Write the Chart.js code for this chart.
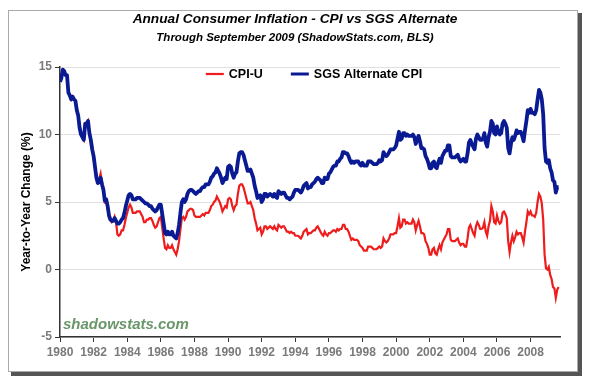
<!DOCTYPE html>
<html>
<head>
<meta charset="utf-8">
<script src="https://cdn.jsdelivr.net/npm/chart.js@4/dist/chart.umd.min.js"></script>
<style>
  html, body { margin: 0; padding: 0; background: #fff; }
  canvas { display: block; }
</style>
</head>
<body>
<canvas id="chart" width="590" height="385"></canvas>
<script>
// monthly year-on-year change, Jan 1980 .. Sep 2009
const startYear = 1980;

const cpiU = [
  13.9, 14.2, 14.8, 14.7, 14.4, 14.4, 13.1, 12.9, 12.6, 12.8, 12.6, 12.5,
  11.8, 11.4, 10.5, 10.0, 9.8, 9.6, 10.8, 10.8, 11.0, 10.1, 9.6, 8.9,
  8.4, 7.6, 6.8, 6.5, 6.7, 7.1, 6.4, 5.9, 5.0, 5.1, 4.6, 3.8,
  3.7, 3.5, 3.6, 3.9, 3.5, 2.6, 2.5, 2.6, 2.9, 2.9, 3.3, 3.8,
  4.2, 4.6, 4.8, 4.6, 4.2, 4.2, 4.2, 4.3, 4.3, 4.3, 4.1, 3.9,
  3.5, 3.5, 3.7, 3.7, 3.8, 3.8, 3.6, 3.3, 3.1, 3.2, 3.5, 3.8,
  3.9, 3.1, 2.3, 1.6, 1.5, 1.8, 1.6, 1.6, 1.8, 1.5, 1.3, 1.1,
  1.5, 2.1, 3.0, 3.8, 3.9, 3.7, 3.9, 4.3, 4.4, 4.5, 4.5, 4.4,
  4.0, 3.9, 3.9, 3.9, 3.9, 4.0, 4.1, 4.0, 4.2, 4.2, 4.2, 4.4,
  4.7, 4.8, 5.0, 5.1, 5.4, 5.2, 5.0, 4.7, 4.3, 4.5, 4.7, 4.6,
  5.2, 5.3, 5.2, 4.7, 4.4, 4.7, 4.8, 5.6, 6.2, 6.3, 6.3, 6.1,
  5.7, 5.3, 4.9, 4.9, 5.0, 4.7, 4.4, 3.8, 3.4, 2.9, 3.0, 3.1,
  2.6, 2.8, 3.2, 3.2, 3.0, 3.1, 3.2, 3.1, 3.0, 3.2, 3.0, 2.9,
  3.3, 3.2, 3.1, 3.2, 3.2, 3.0, 2.8, 2.8, 2.7, 2.8, 2.7, 2.7,
  2.5, 2.5, 2.5, 2.4, 2.3, 2.5, 2.8, 2.9, 3.0, 2.6, 2.7, 2.7,
  2.8, 2.9, 2.9, 3.1, 3.2, 3.0, 2.8, 2.6, 2.5, 2.8, 2.6, 2.5,
  2.7, 2.7, 2.8, 2.9, 2.9, 2.8, 3.0, 2.9, 3.0, 3.0, 3.3, 3.3,
  3.0, 3.0, 2.8, 2.5, 2.2, 2.3, 2.2, 2.2, 2.2, 2.1, 1.8, 1.7,
  1.6, 1.4, 1.4, 1.4, 1.7, 1.7, 1.7, 1.6, 1.5, 1.5, 1.5, 1.6,
  1.7, 1.6, 1.7, 2.3, 2.1, 2.0, 2.1, 2.3, 2.6, 2.6, 2.6, 2.7,
  2.7, 3.2, 3.8, 3.1, 3.2, 3.7, 3.7, 3.4, 3.5, 3.4, 3.4, 3.4,
  3.7, 3.5, 2.9, 3.3, 3.6, 3.2, 2.7, 2.7, 2.6, 2.1, 1.9, 1.6,
  1.1, 1.1, 1.5, 1.6, 1.2, 1.1, 1.5, 1.8, 1.5, 2.0, 2.2, 2.4,
  2.6, 3.0, 3.0, 2.2, 2.1, 2.1, 2.1, 2.2, 2.3, 2.0, 1.8, 1.9,
  1.9, 1.7, 1.7, 2.3, 3.1, 3.3, 3.0, 2.7, 2.5, 3.2, 3.5, 3.3,
  3.0, 3.0, 3.1, 3.5, 2.8, 2.5, 3.2, 3.6, 4.7, 4.3, 3.5, 3.4,
  4.0, 3.6, 3.4, 3.5, 4.2, 4.3, 4.1, 3.8, 2.1, 1.3, 2.0, 2.5,
  2.1, 2.4, 2.8, 2.6, 2.7, 2.7, 2.4, 2.0, 2.8, 3.5, 4.3, 4.1,
  4.3, 4.0, 4.0, 3.9, 4.2, 5.0, 5.6, 5.4, 4.9, 3.7, 1.1, 0.1,
  0.0, 0.2, -0.4, -0.7, -1.3, -1.4, -2.1, -1.5, -1.3
];

const sgsAlt = [
  13.9, 14.2, 14.8, 14.7, 14.4, 14.4, 13.1, 12.9, 12.6, 12.8, 12.6, 12.5,
  11.8, 11.4, 10.5, 10.0, 9.8, 9.6, 10.8, 10.8, 11.0, 10.1, 9.6, 8.9,
  8.4, 7.6, 6.8, 6.4, 6.5, 6.8, 6.3, 5.9, 5.1, 5.2, 4.7, 4.0,
  3.7, 3.6, 3.6, 3.8, 3.6, 3.4, 3.4, 3.5, 3.7, 3.8, 4.2, 4.7,
  5.1, 5.5, 5.6, 5.5, 5.2, 5.2, 5.2, 5.3, 5.3, 5.3, 5.2, 5.1,
  5.0, 4.9, 4.9, 4.8, 4.7, 4.7, 4.5, 4.4, 4.3, 4.4, 4.6, 4.8,
  4.8, 4.1, 3.4, 2.7, 2.6, 2.8, 2.6, 2.6, 2.8, 2.5, 2.4, 2.3,
  2.7, 3.3, 4.2, 5.0, 5.2, 5.0, 5.2, 5.6, 5.8, 5.9, 5.9, 5.8,
  5.7, 5.6, 5.7, 5.8, 5.8, 6.0, 6.1, 6.1, 6.3, 6.3, 6.3, 6.5,
  6.8, 6.9, 7.1, 7.2, 7.5, 7.3, 7.1, 6.8, 6.4, 6.6, 6.8, 6.7,
  7.6, 7.7, 7.6, 7.1, 6.8, 7.1, 7.2, 8.0, 8.6, 8.7, 8.7, 8.5,
  8.1, 7.7, 7.3, 7.3, 7.4, 7.1, 6.8, 6.2, 5.8, 5.3, 5.4, 5.5,
  5.0, 5.2, 5.6, 5.6, 5.4, 5.5, 5.6, 5.5, 5.4, 5.6, 5.4, 5.3,
  5.8, 5.7, 5.6, 5.7, 5.7, 5.5, 5.3, 5.3, 5.2, 5.3, 5.4, 5.7,
  5.9, 5.9, 5.9, 5.8, 5.7, 5.9, 6.2, 6.3, 6.4, 6.0, 6.1, 6.1,
  6.3, 6.4, 6.5, 6.7, 6.8, 6.7, 6.6, 6.4, 6.4, 6.8, 6.7, 6.7,
  7.1, 7.2, 7.4, 7.6, 7.7, 7.7, 8.0, 8.0, 8.2, 8.3, 8.7, 8.7,
  8.6, 8.6, 8.4, 8.1, 7.9, 8.0, 7.9, 8.0, 8.0, 8.0, 7.8, 7.7,
  7.9, 7.7, 7.7, 7.7, 8.0, 8.0, 8.0, 7.9, 7.8, 7.8, 7.8, 7.9,
  8.1, 8.0, 8.1, 8.7, 8.5, 8.4, 8.5, 8.7, 8.9, 8.9, 8.9, 9.0,
  9.2, 9.7, 10.2, 9.6, 9.7, 10.1, 10.1, 9.9, 10.0, 9.9, 9.9, 9.9,
  10.0, 9.8, 9.3, 9.6, 9.9, 9.5, 9.0, 9.0, 8.9, 8.4, 8.2, 7.9,
  7.5, 7.5, 7.9, 8.0, 7.6, 7.5, 7.9, 8.2, 7.9, 8.4, 8.6, 8.8,
  8.8, 9.2, 9.2, 8.4, 8.3, 8.3, 8.3, 8.4, 8.5, 8.2, 8.0, 8.1,
  8.2, 8.0, 8.0, 8.6, 9.4, 9.6, 9.3, 9.1, 8.9, 9.7, 10.0, 9.8,
  9.6, 9.6, 9.7, 10.1, 9.4, 9.1, 9.8, 10.2, 11.0, 10.8, 10.1, 10.0,
  10.6, 10.2, 10.0, 10.1, 10.8, 11.0, 10.8, 10.5, 9.0, 8.6, 9.3, 9.8,
  9.6, 9.9, 10.3, 10.1, 10.2, 10.2, 9.9, 9.5, 10.3, 11.0, 11.8, 11.6,
  11.9, 11.6, 11.6, 11.5, 11.8, 12.6, 13.3, 13.1, 12.6, 11.5, 9.0, 8.0,
  7.9, 8.1, 7.5, 7.2, 6.6, 6.5, 5.7, 6.1, 6.1
];

const yearTicks = [1980, 1982, 1984, 1986, 1988, 1990, 1992, 1994, 1996, 1998, 2000, 2002, 2004, 2006, 2008];
const valueTicks = [-5, 0, 5, 10, 15];

const chartTitle = 'Annual Consumer Inflation - CPI vs SGS Alternate';
const chartSubtitle = 'Through September 2009 (ShadowStats.com, BLS)';

const FONT = '"Liberation Sans", Arial, Helvetica, sans-serif';
Chart.defaults.font.family = FONT;

const toPoints = (arr) => arr.map((v, i) => ({ x: startYear + i / 12, y: v }));

const framePlugin = {
  id: 'frame',
  beforeDraw(chart) {
    const { ctx, width, height } = chart;
    ctx.save();
    ctx.fillStyle = '#fff';
    ctx.fillRect(0, 0, width, height);
    // drop shadow
    ctx.fillStyle = '#555';
    ctx.fillRect(11, 13, 571, 363);
    ctx.fillStyle = '#fff';
    ctx.fillRect(8, 10, 570, 362);
    ctx.strokeStyle = '#aaa';
    ctx.lineWidth = 1;
    ctx.strokeRect(8.5, 10.5, 569, 361);

    // headings, centred on the framed box
    const cx = 295;
    ctx.fillStyle = '#000';
    ctx.textAlign = 'center';
    ctx.textBaseline = 'middle';
    ctx.font = `italic bold 13.7px ${FONT}`;
    ctx.fillText(chartTitle, cx, 19);
    ctx.font = `italic bold 11.5px ${FONT}`;
    ctx.fillText(chartSubtitle, cx, 38);
    ctx.restore();
  },
};

const watermarkPlugin = {
  id: 'watermark',
  beforeDatasetsDraw(chart) {
    const { ctx, chartArea } = chart;
    ctx.save();
    ctx.font = `italic bold 15px ${FONT}`;
    ctx.fillStyle = '#6a976a';
    ctx.textBaseline = 'middle';
    ctx.fillText('shadowstats.com', chartArea.left + 3, chartArea.bottom - 12);
    ctx.restore();
  },
};

// legend sits inside the plot, under the top gridline
const insideLegend = {
  id: 'insideLegend',
  afterDatasetsDraw(chart) {
    const { ctx, chartArea } = chart;
    const sets = chart.data.datasets;
    const lineLen = 18, gap = 5, spacing = 28;
    ctx.save();
    ctx.font = `bold 12.5px ${FONT}`;
    const widths = sets.map(d => lineLen + gap + ctx.measureText(d.label).width);
    const total = widths.reduce((a, b) => a + b, 0) + spacing * (sets.length - 1);
    let x = (chartArea.left + chartArea.right) / 2 + 4 - total / 2;
    const y = chartArea.top + 7;
    sets.forEach((d, i) => {
      ctx.strokeStyle = d.borderColor;
      ctx.lineWidth = Math.min(d.borderWidth, 3);
      ctx.beginPath();
      ctx.moveTo(x, y);
      ctx.lineTo(x + lineLen, y);
      ctx.stroke();
      ctx.fillStyle = '#000';
      ctx.textBaseline = 'middle';
      ctx.fillText(d.label, x + lineLen + gap, y + 0.5);
      x += widths[i] + spacing;
    });
    ctx.restore();
  },
};

const tickFont = { size: 12, weight: 'bold' };

new Chart(document.getElementById('chart'), {
  type: 'line',
  data: {
    datasets: [
      {
        label: 'CPI-U',
        data: toPoints(cpiU),
        borderColor: '#ee1c1c',
        borderWidth: 2.2,
        pointRadius: 0,
        tension: 0,
        order: 1,
      },
      {
        label: 'SGS Alternate CPI',
        data: toPoints(sgsAlt),
        borderColor: '#0a1a92',
        borderWidth: 3.8,
        pointRadius: 0,
        tension: 0,
        borderJoinStyle: 'round',
        order: 0,
      },
    ],
  },
  options: {
    responsive: false,
    animation: false,
    layout: { padding: { left: 10, right: 30, top: 67, bottom: 18 } },
    plugins: {
      legend: { display: false },
      tooltip: { enabled: false },
    },
    scales: {
      x: {
        type: 'linear',
        min: 1980,
        max: 2009.75,
        afterBuildTicks: (s) => { s.ticks = yearTicks.map(v => ({ value: v })); },
        afterFit: (s) => { s.height = 30; },
        grid: { drawOnChartArea: false, tickLength: 5, tickColor: '#333' },
        border: { color: '#333', width: 1.5 },
        ticks: {
          color: '#7a7a7a',
          font: tickFont,
          padding: 3,
          maxRotation: 0,
          autoSkip: false,
          callback: (v) => String(v),
        },
      },
      y: {
        min: -5,
        max: 15,
        afterBuildTicks: (s) => { s.ticks = valueTicks.map(v => ({ value: v })); },
        afterFit: (s) => { s.width = 50; },
        grid: { color: '#e0e0e0', tickColor: '#333', tickLength: 5 },
        border: { color: '#333', width: 1.5 },
        ticks: {
          color: '#7a7a7a',
          font: tickFont,
          padding: 3,
          callback: (v) => String(v),
        },
        title: {
          display: true,
          text: 'Year-to-Year Change (%)',
          color: '#000',
          font: { size: 12, weight: 'bold' },
          padding: { top: 9, bottom: 0 },
        },
      },
    },
  },
  plugins: [framePlugin, watermarkPlugin, insideLegend],
});
</script>
</body>
</html>
